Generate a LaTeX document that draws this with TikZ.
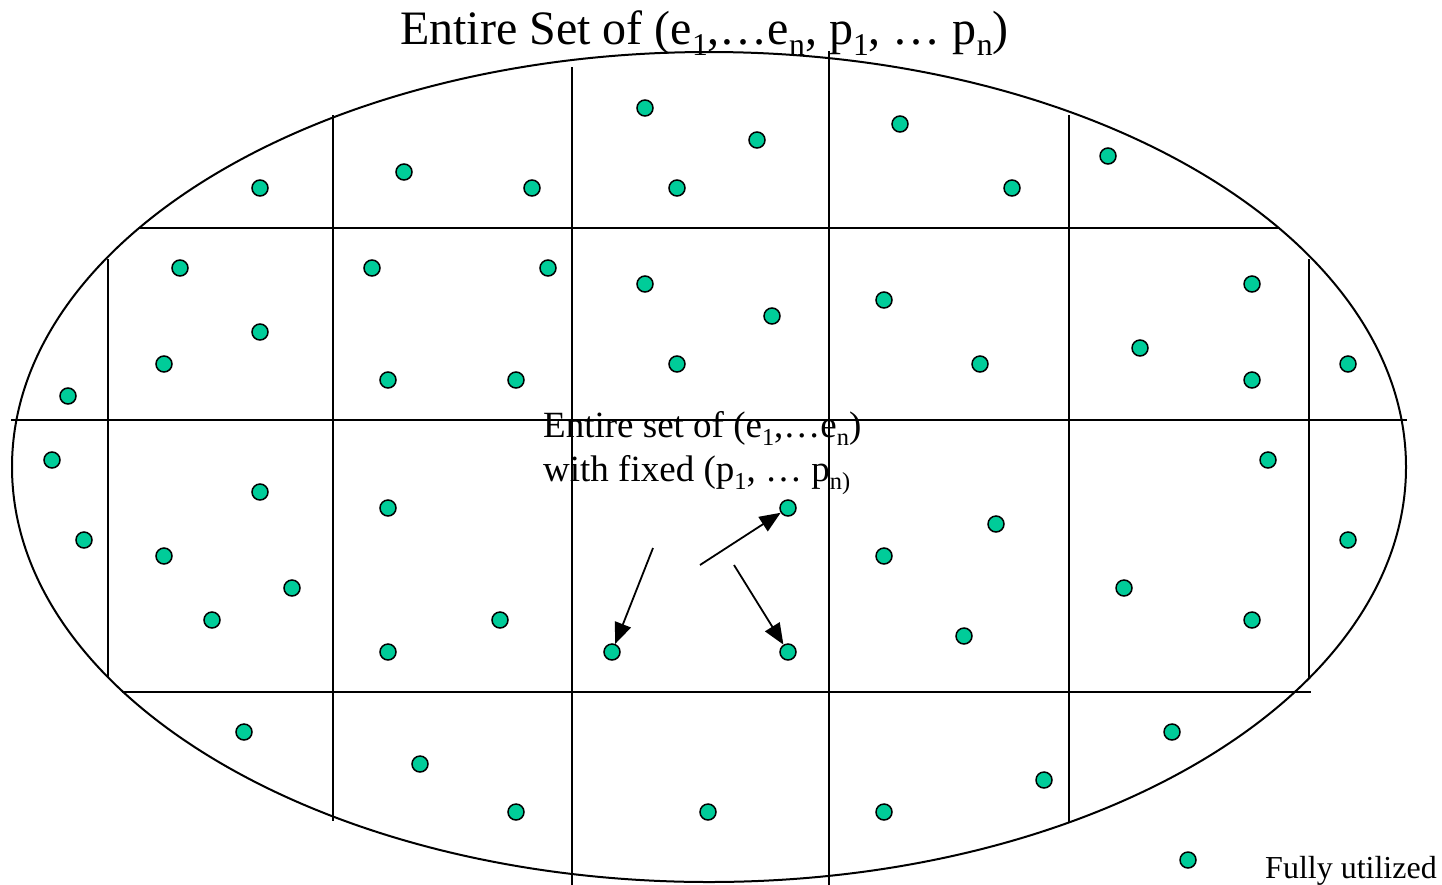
\documentclass[tikz,border=0pt]{standalone}
\usepackage{fontspec}
\setmainfont{Liberation Serif}
\usetikzlibrary{arrows.meta}
\definecolor{dotteal}{HTML}{00CC99}
\newcommand{\sbs}[1]{\raisebox{-0.24em}{\scalebox{0.66}{#1}}}
\tikzset{
  grid/.style={line width=2pt, line cap=rect},
  dot/.style={circle, draw=black, line width=1.5pt, fill=dotteal, minimum size=16pt, inner sep=0pt},
  arr/.style={line width=1.8pt, -{Triangle[length=21pt,width=17pt]}},
  lbl/.style={anchor=base west, inner sep=0pt}
}
\begin{document}
\begin{tikzpicture}[x=1pt,y=-1pt]
\useasboundingbox (0,0) rectangle (1442,884);
% ellipse
\draw[line width=2pt] (709,467) ellipse [x radius=697, y radius=415];
% horizontal lines
\draw[grid] (140,228) -- (1278,228);
\draw[grid] (12,420) -- (1406,420);
\draw[grid] (123,692) -- (1310,692);
% vertical lines
\draw[grid] (108,260) -- (108,677);
\draw[grid] (333,116) -- (333,820);
\draw[grid] (572,68) -- (572,884);
\draw[grid] (829,52) -- (829,884);
\draw[grid] (1069,116) -- (1069,822);
\draw[grid] (1309,260) -- (1309,677);
% title
\node[lbl, font=\fontsize{48}{56}\selectfont] (title) at (400,44) {Entire Set of (e\sbs{1},…e\sbs{n}, p\sbs{1}, … p\sbs{n})};
% dots
\foreach \n/\x/\y in {a1/260/188, a2/404/172, a3/532/188, a4/645/108, a5/757/140, a6/677/188, a7/900/124, a8/1012/188, a9/1108/156,
  b1/180/268, b2/260/332, b3/164/364, b4/372/268, b5/548/268, b6/388/380, b7/516/380, b8/645/284, b9/772/316, b10/677/364, b11/884/300, b12/980/364, b13/1252/284, b14/1140/348, b15/1252/380, b16/68/396, b17/1348/364,
  c1/52/460, c2/84/540, c3/260/492, c4/164/556, c5/292/588, c6/212/620, c7/388/508, c8/500/620, c9/388/652, c10/612/652, c11/788/508, c12/788/652, c13/884/556, c14/996/524, c15/964/636, c16/1268/460, c17/1348/540, c18/1124/588, c19/1252/620,
  d1/244/732, d2/420/764, d3/516/812, d4/708/812, d5/884/812, d6/1044/780, d7/1172/732}
  \node[dot] (\n) at (\x,\y) {};
% inner text
\node[lbl, font=\fontsize{37}{43}\selectfont] (inner1) at (543,437) {Entire set of (e\sbs{1},…e\sbs{n})};
\node[lbl, font=\fontsize{37}{43}\selectfont] (inner2) at (543,481) {with fixed (p\sbs{1}, … p\sbs{n)}};
% arrows
\coordinate (s1) at (653,548);
\coordinate (s2) at (700,565);
\coordinate (s3) at (734,565);
\draw[arr] (s1) -- (c10);
\draw[arr] (s2) -- (c11);
\draw[arr] (s3) -- (c12);
% legend
\node[dot] (legdot) at (1188,860) {};
\node[lbl, font=\fontsize{32}{38}\selectfont] (legtext) at (1265,878) {Fully utilized};
\end{tikzpicture}
\end{document}
